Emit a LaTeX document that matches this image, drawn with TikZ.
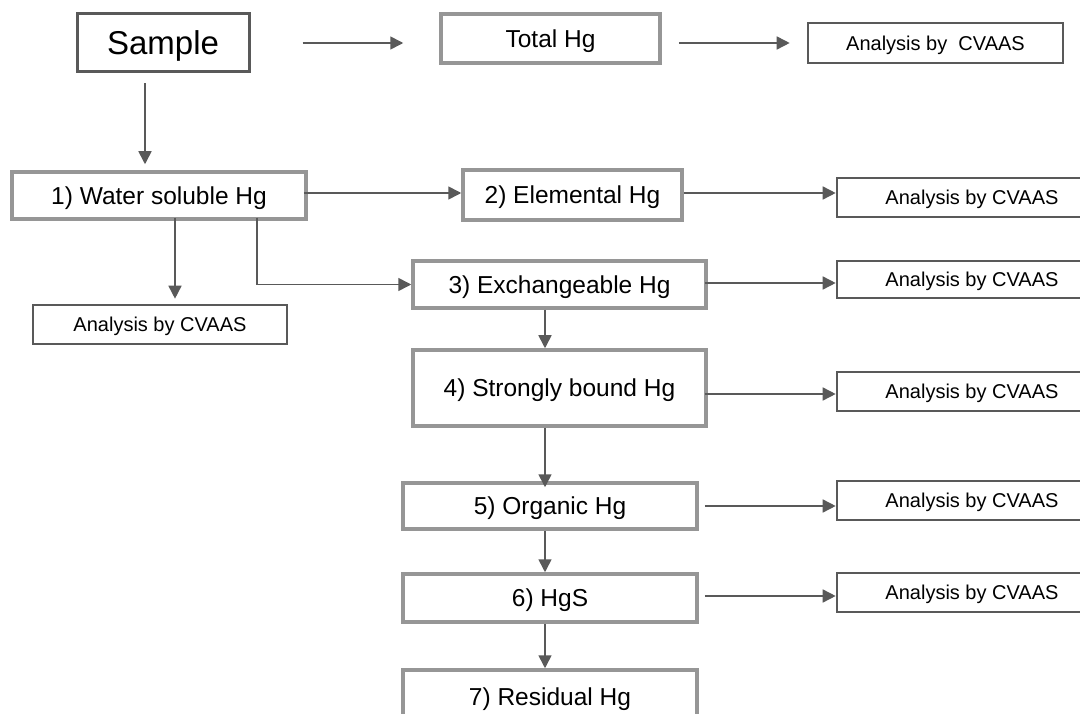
\documentclass[tikz,border=0pt]{standalone}
\usepackage{fontspec}
\setmainfont{Liberation Sans}
\usetikzlibrary{arrows.meta}
\definecolor{dkgray}{HTML}{595959}
\definecolor{ltgray}{HTML}{969696}
\tikzset{
  samplebox/.style={draw=dkgray, line width=3pt, inner sep=0pt, text height=23.6pt, text depth=0pt, font=\fontsize{33}{38}\selectfont},
  stepbox/.style={draw=ltgray, line width=3.5pt, inner sep=0pt, text height=17.5pt, text depth=0pt, font=\fontsize{24.5}{28}\selectfont},
  anbox/.style={draw=dkgray, line width=2.6pt, inner sep=0pt, text height=14.3pt, text depth=0pt, font=\fontsize{20}{23}\selectfont},
  arr/.style={draw=dkgray, line width=1.6pt, -{Triangle[length=13pt,width=13pt]}},
  conn/.style={draw=dkgray, line width=1.6pt}
}
\begin{document}
\begin{tikzpicture}[x=1pt,y=-1pt]
\useasboundingbox (0,0) rectangle (1080,714);
\fill[white] (0,0) rectangle (1080,714);
% nodes
\node[samplebox, minimum width=172, minimum height=58] (sample) at (163,43) {Sample};
\node[stepbox, minimum width=219, minimum height=49] (total) at (550.5,38.5) {Total Hg};
\node[anbox, minimum width=255, minimum height=40] (an0) at (935.5,43) {Analysis by~~CVAAS};
\node[stepbox, minimum width=294, minimum height=47] (water) at (159,195.5) {1) Water soluble Hg};
\node[stepbox, minimum width=219, minimum height=50] (elem) at (572.5,195) {2) Elemental Hg};
\node[anbox, minimum width=270, minimum height=39] (an1) at (972,197.5) {Analysis by CVAAS};
\node[anbox, minimum width=254, minimum height=39] (anL) at (160,324.5) {Analysis by CVAAS};
\node[stepbox, minimum width=293, minimum height=47] (exch) at (559.5,284.5) {3) Exchangeable Hg};
\node[anbox, minimum width=270, minimum height=37] (an2) at (972,279.5) {Analysis by CVAAS};
\node[stepbox, minimum width=293, minimum height=76] (strong) at (559.5,388) {4) Strongly bound Hg};
\node[anbox, minimum width=270, minimum height=39] (an3) at (972,391.5) {Analysis by CVAAS};
\node[stepbox, minimum width=294, minimum height=46] (org) at (550,506) {5) Organic Hg};
\node[anbox, minimum width=270, minimum height=39] (an4) at (972,500.5) {Analysis by CVAAS};
\node[stepbox, minimum width=294, minimum height=48] (hgs) at (550,598) {6) HgS};
\node[anbox, minimum width=270, minimum height=39] (an5) at (972,592.5) {Analysis by CVAAS};
\node[stepbox, minimum width=294, minimum height=54] (res) at (550,697) {7) Residual Hg};
% horizontal connectors
\draw[arr] ([xshift=52]sample.east |- 0,43) -- ([xshift=-36]total.west |- 0,43);
\draw[arr] ([xshift=17]total.east |- 0,43) -- ([xshift=-17]an0.west |- 0,43);
\draw[arr] ([xshift=-4]water.east |- 0,193) -- (elem.west |- 0,193);
\draw[arr] (elem.east |- 0,193) -- (an1.west |- 0,193);
\draw[arr] ([xshift=-3]exch.east |- 0,283) -- (an2.west |- 0,283);
\draw[arr] ([xshift=-3]strong.east |- 0,394) -- (an3.west |- 0,394);
\draw[arr] ([xshift=6]org.east) -- (org.east -| an4.west);
\draw[arr] ([xshift=6]hgs.east |- 0,596) -- (an5.west |- 0,596);
% vertical connectors
\draw[arr] ([xshift=-18,yshift=-10]sample.south) -- ([xshift=-14,yshift=6]water.north);
\draw[arr] ([xshift=16,yshift=3]water.south) -- ([xshift=15,yshift=5]anL.north);
\draw[arr] ([xshift=98,yshift=3]water.south) |- (exch.west);
\draw[arr] ([xshift=-14.5]exch.south) -- ([xshift=-14.5]strong.north);
\draw[arr] ([xshift=-14.5]strong.south) -- ([xshift=-5,yshift=-6]org.north);
\draw[arr] ([xshift=-5]org.south) -- ([xshift=-5]hgs.north);
\draw[arr] ([xshift=-5]hgs.south) -- ([xshift=-5]res.north);
\end{tikzpicture}
\end{document}
